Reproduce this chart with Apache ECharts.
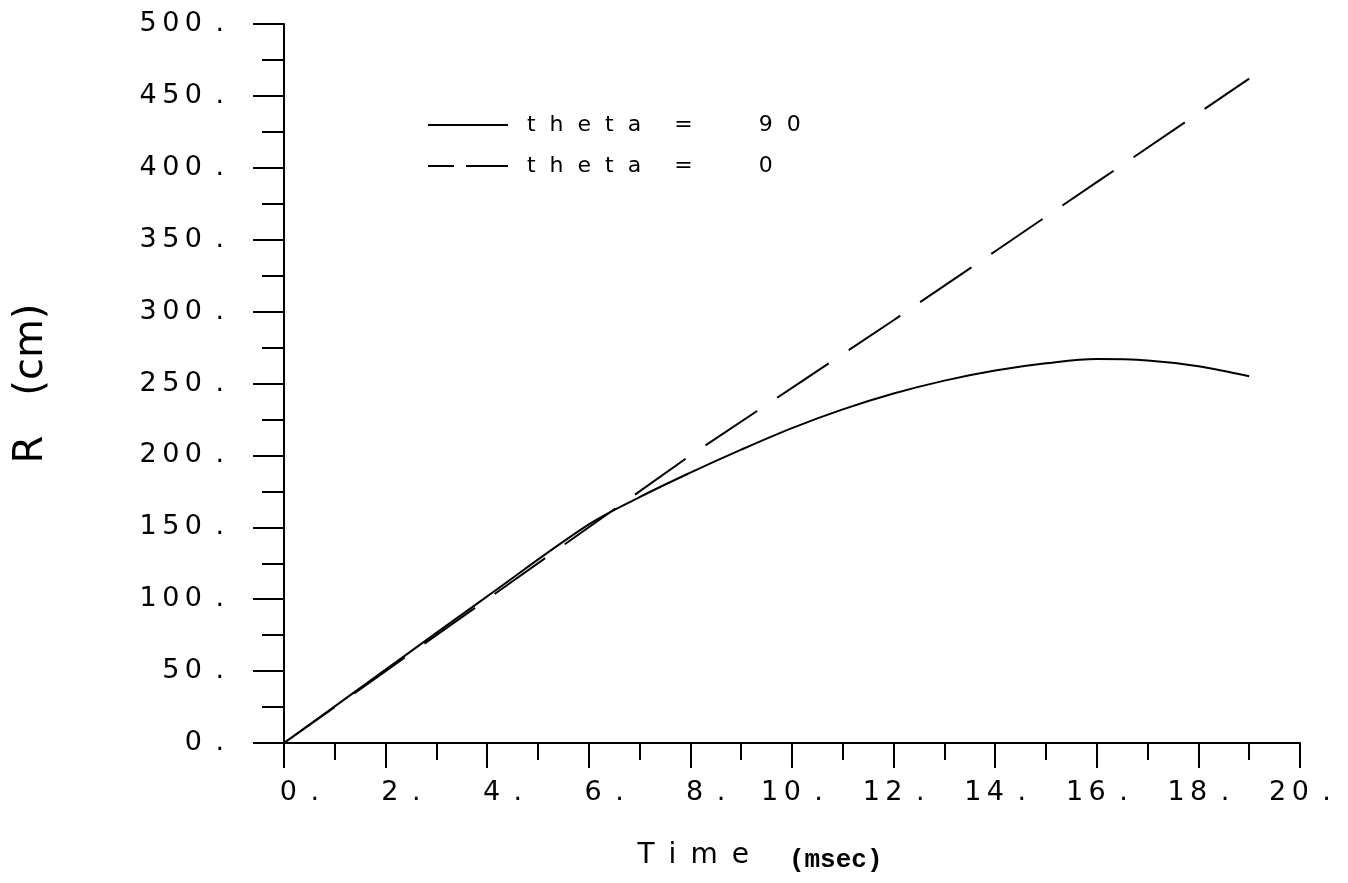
<!DOCTYPE html>
<html><head><meta charset="utf-8">
<script src="https://cdn.jsdelivr.net/npm/echarts/dist/echarts.min.js"></script>
<style>html,body{margin:0;padding:0;background:#fff}#c{width:1348px;height:883px}</style>
</head><body><div id="c"></div>
<script>
// ---- data ----
const timeTheta90 = [0, 2, 4, 6, 7, 8, 9, 10, 11, 12, 13, 14, 15, 16, 17, 18, 19];
const rTheta90    = [0, 51, 102, 152, 171, 188, 204, 219, 232, 243, 252, 259, 264, 267, 266, 262, 255];
const timeTheta0  = [0, 2, 4, 6, 8, 10, 12, 14, 16, 18, 19];
const rTheta0     = [0, 50, 100, 150, 200, 247, 294, 342, 390, 438, 462];
const seriesNames = ['theta = 90', 'theta = 0'];
const xTickLabels = ['0.', '2.', '4.', '6.', '8.', '10.', '12.', '14.', '16.', '18.', '20.'];
const yTickLabels = ['0.', '50.', '100.', '150.', '200.', '250.', '300.', '350.', '400.', '450.', '500.'];
const xName = 'Time';
const xUnit = '(msec)';
const yName = 'R (cm)';

// ---- helpers for the spaced plotter-style lettering ----
function spacedNum(s) {
  const body = s.replace('.', '');
  return body.split('').join('\u2009') + '\u2002.';
}
function legendText(name) {
  const p = name.split(' = ');
  const word = p[0].split('').join('\u2007');
  const num = p[1].split('').join('\u2007');
  return word + '\u2003\u2002=\u2003\u2003\u2003' + num;
}
function zip(a, b) { return a.map((v, i) => [v, b[i]]); }

const chart = echarts.init(document.getElementById('c'), null, {renderer: 'canvas'});
const FONT = 'DejaVu Sans';
const axisCommon = {
  axisLine: {show: true, onZero: false, lineStyle: {color: '#000', width: 2}},
  splitLine: {show: false},
  minorSplitLine: {show: false},
  splitArea: {show: false}
};

chart.setOption({
  animation: false,
  backgroundColor: '#fff',
  grid: {left: 284, right: 48, top: 24, bottom: 140, containLabel: false},
  legend: {
    orient: 'vertical', left: 428, top: 114, padding: 0,
    itemWidth: 80, itemHeight: 14, itemGap: 19,
    data: [
      {name: seriesNames[0], icon: 'path://M0,6L80,6L80,8L0,8Z', itemStyle: {color: '#000'}},
      {name: seriesNames[1], icon: 'path://M0,6L26,6L26,8L0,8ZM38,6L80,6L80,8L38,8Z', itemStyle: {color: '#000'}}
    ],
    formatter: legendText,
    textStyle: {fontFamily: FONT, fontSize: 22, color: '#000', padding: [0, 0, 0, 14]}
  },
  xAxis: Object.assign({
    type: 'value', min: 0, max: 20, interval: 2,
    axisTick: {show: true, inside: false, length: 25, lineStyle: {color: '#000', width: 2}},
    minorTick: {show: true, splitNumber: 2, length: 17, lineStyle: {color: '#000', width: 2}},
    axisLabel: {
      margin: 36, color: '#000', fontFamily: FONT, fontSize: 27,
      formatter: function (v) {
        const s = xTickLabels[Math.round(v / 2)];
        return (s.length <= 2 ? '\u2007\u2002' : '') + spacedNum(s);
      }
    },
    name: '{a|T\u2002i\u2002m\u2002e}{b|' + xUnit + '}',
    nameLocation: 'middle', nameGap: 96,
    nameTextStyle: {
      rich: {
        a: {fontFamily: FONT, fontSize: 28, color: '#000', lineHeight: 34},
        b: {fontFamily: 'Liberation Mono', fontWeight: 'bold', fontSize: 26, color: '#000', lineHeight: 34,
            padding: [8, 64, 0, 40]}
      }
    }
  }, axisCommon),
  yAxis: Object.assign({
    type: 'value', min: 0, max: 500, interval: 50,
    axisTick: {show: true, inside: false, length: 31, lineStyle: {color: '#000', width: 2}},
    minorTick: {show: true, splitNumber: 2, length: 22, lineStyle: {color: '#000', width: 2}},
    axisLabel: {
      margin: 60, color: '#000', fontFamily: FONT, fontSize: 27,
      formatter: function (v) { return spacedNum(yTickLabels[Math.round(v / 50)]); }
    },
    name: yName.replace(' ', '\u2003'),
    nameLocation: 'middle', nameRotate: 90, nameGap: 232,
    nameTextStyle: {fontFamily: FONT, fontSize: 40, color: '#000'}
  }, axisCommon),
  series: [
    {
      name: seriesNames[0], type: 'line', symbol: 'none', smooth: 0.35,
      lineStyle: {color: '#000', width: 2, type: 'solid'},
      itemStyle: {color: '#000'},
      data: zip(timeTheta90, rTheta90)
    },
    {
      name: seriesNames[1], type: 'line', symbol: 'none', smooth: false,
      lineStyle: {color: '#000', width: 2, type: [62, 24]},
      itemStyle: {color: '#000'},
      data: zip(timeTheta0, rTheta0)
    }
  ]
});
</script>
</body></html>
